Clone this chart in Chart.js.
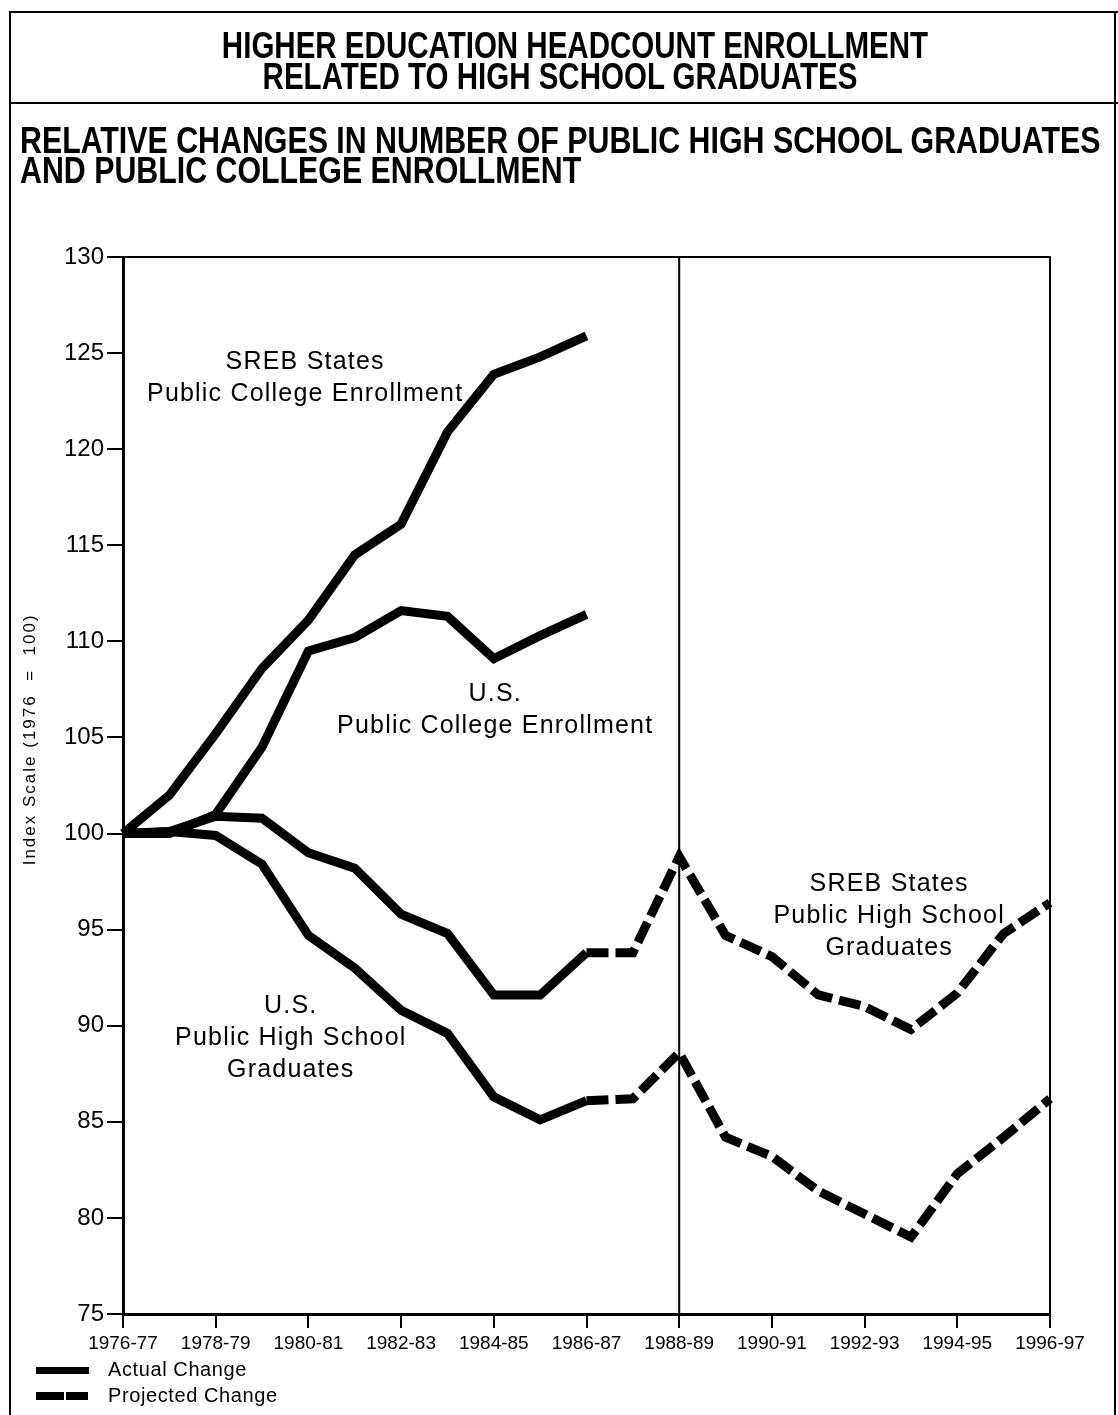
<!DOCTYPE html>
<html>
<head>
<meta charset="utf-8">
<title>Higher Education Headcount Enrollment</title>
<script src="https://cdn.jsdelivr.net/npm/chart.js@4.4.1/dist/chart.umd.min.js"></script>
<style>
  body { margin: 0; background: #fff; }
  #page { position: relative; width: 1118px; height: 1415px; overflow: hidden; color: #000;
          font-family: 'Liberation Sans', Arial, sans-serif; }
  #page canvas { position: absolute; left: 0; top: 0; }
  .rule { position: absolute; background: #000; }
  .head { position: absolute; white-space: nowrap; line-height: 31px;
          font-family: 'Liberation Sans', Arial, sans-serif; font-weight: bold; font-size: 36px; }
  .center { width: 1100px; text-align: center; transform: scaleX(0.82); transform-origin: 50% 50%; }
  .left { transform: scaleX(0.82); transform-origin: 0 50%; font-size: 37px; }
  .key { position: absolute; left: 108px; font-size: 20px; letter-spacing: 0.6px;
         line-height: 22px; white-space: nowrap; }
  .swatch { position: absolute; background: #000; }
</style>
</head>
<body>
<div id="page">
  <canvas id="chart" width="1118" height="1415"></canvas>

  <!-- frame -->
  <div class="rule" style="left:9px; top:11px; width:1109px; height:2px;"></div>
  <div class="rule" style="left:9px; top:11px; width:2px; height:1404px;"></div>
  <div class="rule" style="left:1114px; top:11px; width:2px; height:1404px;"></div>
  <div class="rule" style="left:9px; top:102px; width:1109px; height:2px;"></div>

  <!-- headings -->
  <div class="head center" style="left:25px; top:30px;">HIGHER EDUCATION HEADCOUNT ENROLLMENT</div>
  <div class="head center" style="left:10px; top:61px;">RELATED TO HIGH SCHOOL GRADUATES</div>
  <div class="head left" style="left:20px; top:125px;">RELATIVE CHANGES IN NUMBER OF PUBLIC HIGH SCHOOL GRADUATES</div>
  <div class="head left" style="left:20px; top:155px;">AND PUBLIC COLLEGE ENROLLMENT</div>

  <!-- key -->
  <div class="swatch" style="left:36px; top:1367px; width:53px; height:7px;"></div>
  <div class="key" style="top:1358px;">Actual Change</div>
  <div class="swatch" style="left:36px; top:1392px; width:28px; height:8px;"></div>
  <div class="swatch" style="left:66px; top:1392px; width:22px; height:8px;"></div>
  <div class="key" style="top:1384px;">Projected Change</div>
</div>

<script>
// school years on the x axis
const years = ['1976-77', '1977-78', '1978-79', '1979-80', '1980-81', '1981-82', '1982-83',
               '1983-84', '1984-85', '1985-86', '1986-87', '1987-88', '1988-89', '1989-90',
               '1990-91', '1991-92', '1992-93', '1993-94', '1994-95', '1995-96', '1996-97'];

// index values, 1976 = 100
const srebCollege = [100, 102.0, 105.2, 108.6, 111.1, 114.5, 116.1, 120.9, 123.9, 124.8, 125.9];
const usCollege   = [100, 100.0, 101.0, 104.5, 109.5, 110.2, 111.6, 111.3, 109.1, 110.3, 111.4];
const srebHS = [100, 100.1, 100.9, 100.8, 99.0, 98.2, 95.8, 94.8, 91.6, 91.6, 93.8,
                93.8, 98.8, 94.7, 93.6, 91.6, 91.0, 89.8, 91.7, 94.8, 96.4];
const usHS   = [100, 100.1, 99.9, 98.4, 94.7, 93.0, 90.8, 89.6, 86.3, 85.1, 86.1,
                86.2, 88.6, 84.2, 83.2, 81.4, 80.2, 79.0, 82.3, 84.2, 86.2];

const firstProjected = 10;   // projections start after 1986-87
const dividerIndex = 12;     // vertical rule at 1988-89
const yTitle = 'Index Scale (1976  =  100)';

// series captions, placed in data space [x index, y value]
const captions = [
  { at: [3.93, 123.7], lines: ['SREB States', 'Public College Enrollment'] },
  { at: [8.03, 106.4], lines: ['U.S.', 'Public College Enrollment'] },
  { at: [16.53, 95.7], lines: ['SREB States', 'Public High School', 'Graduates'] },
  { at: [3.62, 89.35], lines: ['U.S.', 'Public High School', 'Graduates'] }
];

const sans = "'Liberation Sans', Arial, sans-serif";

function series(label, data) {
  return {
    label: label,
    data: data,
    borderColor: '#000',
    borderWidth: 9,
    pointRadius: 0,
    tension: 0,
    fill: false,
    borderCapStyle: 'butt',
    borderJoinStyle: 'miter',
    segment: {
      borderDash: ctx => ctx.p0DataIndex >= firstProjected ? [22, 7] : undefined
    }
  };
}

// top/right frame of the plot, the 1988-89 rule, axis title and the captions
const overlay = {
  id: 'overlay',
  beforeDatasetsDraw(chart) {
    const { ctx, chartArea: a, scales: { x } } = chart;
    ctx.save();
    ctx.strokeStyle = '#000';
    ctx.lineWidth = 2;
    ctx.beginPath();
    ctx.moveTo(a.left, a.top);
    ctx.lineTo(a.right, a.top);
    ctx.lineTo(a.right, a.bottom);
    const vx = x.getPixelForValue(dividerIndex);
    ctx.moveTo(vx, a.top);
    ctx.lineTo(vx, a.bottom);
    ctx.stroke();
    ctx.restore();
  },
  afterDatasetsDraw(chart) {
    const { ctx, scales: { x, y } } = chart;
    ctx.save();
    ctx.fillStyle = '#000';
    ctx.textAlign = 'center';
    ctx.textBaseline = 'middle';

    // y axis title, rotated
    ctx.save();
    ctx.font = '17px ' + sans;
    if ('letterSpacing' in ctx) ctx.letterSpacing = '2px';
    ctx.translate(30, y.getPixelForValue(104.9));
    ctx.rotate(-Math.PI / 2);
    ctx.fillText(yTitle, 0, 0);
    ctx.restore();

    ctx.font = '25px ' + sans;
    if ('letterSpacing' in ctx) ctx.letterSpacing = '1.2px';
    captions.forEach(c => {
      const cx = x.getPixelForValue(c.at[0]);
      const cy = y.getPixelForValue(c.at[1]);
      const n = c.lines.length;
      c.lines.forEach((t, i) => ctx.fillText(t, cx, cy + (i - (n - 1) / 2) * 32));
    });
    ctx.restore();
  }
};

new Chart(document.getElementById('chart'), {
  type: 'line',
  data: {
    labels: years,
    datasets: [
      series('SREB States Public College Enrollment', srebCollege),
      series('U.S. Public College Enrollment', usCollege),
      series('SREB States Public High School Graduates', srebHS),
      series('U.S. Public High School Graduates', usHS)
    ]
  },
  options: {
    responsive: false,
    animation: false,
    layout: { padding: { left: 12, top: 257, right: 68, bottom: 56 } },
    plugins: { legend: { display: false }, tooltip: { enabled: false } },
    scales: {
      x: {
        afterFit: s => { s.height = 45; },
        border: { display: true, color: '#000', width: 3 },
        grid: {
          drawOnChartArea: false,
          tickLength: 14,
          lineWidth: 2,
          color: ctx => ctx.index % 2 === 0 ? '#000' : 'rgba(0,0,0,0)'
        },
        ticks: {
          autoSkip: false,
          maxRotation: 0,
          color: '#000',
          padding: 4,
          font: { family: sans, size: 19 },
          callback: function (v, i) { return i % 2 === 0 ? this.getLabelForValue(v) : ''; }
        }
      },
      y: {
        min: 75,
        max: 130,
        afterFit: s => { s.width = 111; },
        border: { color: '#000', width: 3 },
        grid: { drawOnChartArea: false, tickLength: 16, lineWidth: 2, color: '#000' },
        ticks: { stepSize: 5, color: '#000', padding: 3, font: { family: sans, size: 24 } }
      }
    }
  },
  plugins: [overlay]
});
</script>
</body>
</html>
